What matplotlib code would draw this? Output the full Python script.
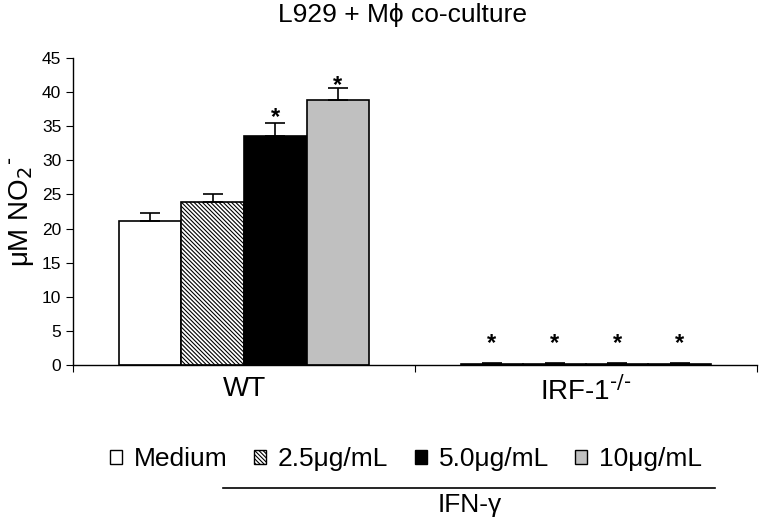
import matplotlib.pyplot as plt
import numpy as np
from matplotlib.patches import Patch
from matplotlib.lines import Line2D

plt.rcParams["font.family"] = ["Liberation Sans", "DejaVu Sans"]
plt.rcParams["hatch.linewidth"] = 0.8

groups = ["WT", "IRF-1$^{\\text{-/-}}$"]
treatments = ["Medium", "2.5\u03bcg/mL", "5.0\u03bcg/mL", "10\u03bcg/mL"]
means = {
    "WT": [21.1, 23.9, 33.6, 38.8],
    "IRF": [0.2, 0.2, 0.2, 0.2],
}
errs = {
    "WT": [1.2, 1.2, 1.9, 1.8],
    "IRF": [0.15, 0.15, 0.15, 0.15],
}
# significance marks (None = no star)
stars = {
    "WT": [None, None, 36.3, 41.0],
    "IRF": [3.2, 3.2, 3.2, 3.2],
}

faces = ["white", "white", "black", "#c0c0c0"]
hatches = [None, "\\\\\\\\\\\\\\\\", None, None]

fig = plt.figure(figsize=(7.62, 5.23), dpi=100)
ax = fig.add_axes([0.096, 0.302, 0.897, 0.587])

width = 0.183
offs = (np.arange(4) - 1.5) * width
for gi, key in enumerate(["WT", "IRF"]):
    for k in range(4):
        x = gi + offs[k]
        ax.bar(x, means[key][k], width, color=faces[k], edgecolor="black",
               linewidth=1.2, hatch=hatches[k], zorder=2)
        ax.errorbar(x, means[key][k], yerr=[[0], [errs[key][k]]], fmt="none",
                    ecolor="black", elinewidth=1.2, capsize=7, capthick=1.2,
                    zorder=3)
        if stars[key][k] is not None:
            ax.text(x, stars[key][k], "*", ha="center", va="center",
                    fontsize=17, fontweight="bold")

ax.set_xlim(-0.5, 1.5)
ax.set_ylim(0, 45)
ax.set_yticks(np.arange(0, 46, 5))
ax.set_xticks([-0.5, 0.5, 1.5], minor=False)
ax.set_xticklabels([])
ax.set_xticks([0, 1], minor=True)
ax.set_xticklabels(groups, minor=True, fontsize=20)
ax.tick_params(axis="x", which="minor", length=0, pad=8)
ax.tick_params(axis="x", which="major", length=5, direction="out")
ax.tick_params(axis="y", labelsize=12.5, length=5)
for s in ["top", "right"]:
    ax.spines[s].set_visible(False)
ax.spines["left"].set_linewidth(1.0)
ax.spines["bottom"].set_linewidth(1.0)

ax.set_ylabel("\u03bcM NO$_2$$^{\\text{-}}$", fontsize=20, labelpad=4)
fig.text(0.528, 0.971, "L929 + M\u03d5 co-culture", ha="center",
         va="center", fontsize=19)

handles = [Patch(facecolor=faces[k], edgecolor="black", hatch=hatches[k],
                 linewidth=1.0) for k in range(4)]
fig.legend(handles, treatments, loc="center", bbox_to_anchor=(0.533, 0.122),
           ncol=4, frameon=False, fontsize=19, handlelength=0.45,
           handleheight=0.45, handletextpad=0.45, columnspacing=1.0,
           borderpad=0.1)

fig.add_artist(Line2D([0.292, 0.938], [0.067, 0.067], color="black",
                      linewidth=1.2, transform=fig.transFigure))
fig.text(0.617, 0.035, "IFN-\u03b3", ha="center", va="center", fontsize=19)

fig.savefig("out.png", dpi=100)
